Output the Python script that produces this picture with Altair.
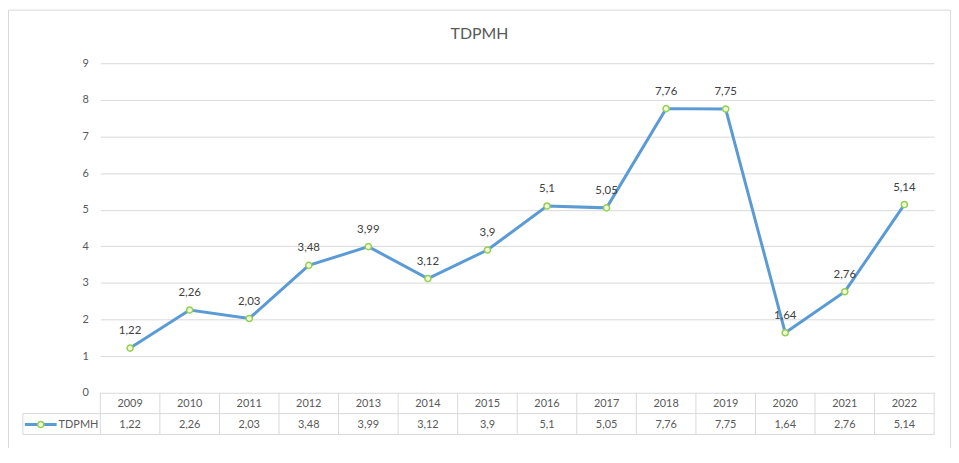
import altair as alt
import pandas as pd

# ---- data ----
years = ["2009", "2010", "2011", "2012", "2013", "2014", "2015",
         "2016", "2017", "2018", "2019", "2020", "2021", "2022"]
values = [1.22, 2.26, 2.03, 3.48, 3.99, 3.12, 3.9,
          5.1, 5.05, 7.76, 7.75, 1.64, 2.76, 5.14]
series_name = "TDPMH"
chart_title = "TDPMH"
y_ticks = [0, 1, 2, 3, 4, 5, 6, 7, 8, 9]

labels = [str(v).replace(".", ",") for v in values]
df = pd.DataFrame({"year": years, "value": values, "label": labels})
one = pd.DataFrame({"k": [0]})

FONT = "Lato"
GRID = "#d9d9d9"
TXT = "#595959"
LINE = "#5b9bd5"
MK_FILL = "#f3f8d8"
MK_STROKE = "#92d050"

W, H = 840, 332

xscale = alt.Scale(domain=years, paddingInner=0, paddingOuter=0)
xenc = alt.X("year:N", sort=None, scale=xscale, axis=None)
yscale = alt.Scale(domain=[0, 9], nice=False, zero=True)
yaxis = alt.Axis(values=y_ticks, tickCount=10, title=None, grid=True,
                 gridColor=GRID, gridWidth=1, domain=False, ticks=False,
                 labelColor=TXT, labelFontSize=11, labelFont=FONT,
                 labelPadding=12, labelOverlap=False)
yenc = alt.Y("value:Q", scale=yscale, axis=yaxis)

base = alt.Chart(df)

line = base.mark_line(color=LINE, strokeWidth=3).encode(x=xenc, y=yenc)
points = base.mark_circle(fill=MK_FILL, stroke=MK_STROKE, strokeWidth=1.5,
                          size=38, opacity=1).encode(x=xenc, y=yenc)
point_labels = base.mark_text(dy=-17, fontSize=11.5, font=FONT,
                              color="#404040").encode(
    x=xenc, y=yenc, text="label:N")

# ---- data table below the plot ----
hdr_text = base.mark_text(fontSize=11, font=FONT, color=TXT,
                          baseline="middle").encode(
    x=xenc, y=alt.value(343), text="year:N")
row_text = base.mark_text(fontSize=11, font=FONT, color=TXT,
                          baseline="middle").encode(
    x=xenc, y=alt.value(364), text="label:N")

vlines = base.mark_rule(color=GRID, strokeWidth=1).encode(
    x=alt.X("year:N", sort=None, scale=xscale, axis=None, bandPosition=0),
    y=alt.value(332), y2=alt.value(374))


def rule(x1, x2, y1, y2, color=GRID, width=1):
    return alt.Chart(one).mark_rule(color=color, strokeWidth=width).encode(
        x=alt.value(x1), x2=alt.value(x2), y=alt.value(y1), y2=alt.value(y2))


table_lines = [
    rule(W, W, 332, 374),          # right edge
    rule(-78, -78, 353, 374),      # legend cell left edge
    rule(-78, W, 353, 353),        # middle line
    rule(-78, W, 374, 374),        # bottom line
]

legend_line = rule(-76, -44, 364, 364, color=LINE, width=3)
legend_pt = alt.Chart(one).mark_circle(
    fill=MK_FILL, stroke=MK_STROKE, strokeWidth=1.5, size=38, opacity=1
).encode(x=alt.value(-60), y=alt.value(364))
legend_txt = alt.Chart(one).mark_text(
    text=series_name, fontSize=11, font=FONT, color=TXT, align="left",
    baseline="middle").encode(x=alt.value(-42), y=alt.value(364))

# ---- chart title (as text, centred on the whole chart) ----
title_txt = alt.Chart(one).mark_text(
    text=chart_title, fontSize=16, font=FONT, color=TXT, align="center",
    baseline="alphabetic").encode(x=alt.value(382), y=alt.value(-24))

# ---- outer chart border ----
border = [
    rule(-92.5, 856.5, -53.5, -53.5, color="#d9d9d9"),
    rule(-92.5, -92.5, -53.5, 400, color="#d9d9d9"),
    rule(856.5, 856.5, -53.5, 400, color="#d9d9d9"),
]

chart = alt.layer(
    line, points, point_labels, *border, vlines, *table_lines,
    hdr_text, row_text, legend_line, legend_pt, legend_txt, title_txt,
).properties(
    width=W, height=H,
    autosize=alt.AutoSizeParams(type="none"),
    padding={"left": 93, "top": 54, "right": 17, "bottom": 54},
    background="white",
).configure_view(stroke=None)

chart.save("out.html", embed_options={"renderer": "svg", "actions": False})
